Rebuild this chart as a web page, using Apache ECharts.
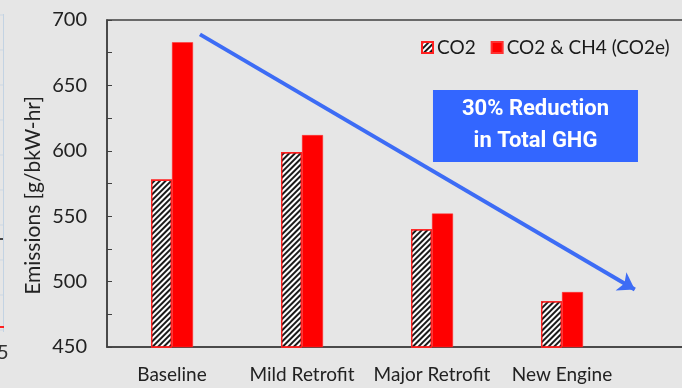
<!DOCTYPE html>
<html>
<head>
<meta charset="utf-8">
<script src="https://cdn.jsdelivr.net/npm/echarts@6/dist/echarts.min.js"></script>
<style>
html,body{margin:0;padding:0;background:#e6e6e6;}
#chart{width:682px;height:388px;}
</style>
</head>
<body>
<div id="chart"></div>
<script>
const categories = ['Baseline', 'Mild Retrofit', 'Major Retrofit', 'New Engine', ''];
const co2 = [578, 599, 540, 485];
const co2e = [683, 612, 552, 492];
const yTicks = { min: 450, max: 700, interval: 50 };
const arrowStart = [0.715, 689];
const arrowEnd = [4.06, 494];
const boxCenter = [3.296, 619];
const boxText = '30% Reduction\nin Total GHG';

const FONT = 'Lato';
const chart = echarts.init(document.getElementById('chart'));

const leftFragment = [];
[15, 50, 85, 120, 155, 190, 225, 260, 295, 330].forEach(function (y) {
  leftFragment.push({ type: 'line', shape: { x1: 0, y1: y, x2: 3, y2: y }, style: { stroke: '#cdd8e3', lineWidth: 1 } });
});
leftFragment.push({ type: 'line', shape: { x1: 3.5, y1: 14, x2: 3.5, y2: 332 }, style: { stroke: '#c3d3e3', lineWidth: 1 } });
leftFragment.push({ type: 'line', shape: { x1: 0, y1: 239, x2: 3, y2: 239 }, style: { stroke: '#111', lineWidth: 1.5 } });
leftFragment.push({ type: 'rect', shape: { x: 0, y: 326, width: 4, height: 2 }, style: { fill: '#ff2020' } });
leftFragment.push({ type: 'text', x: -3, y: 343, style: { text: '5', font: '20px ' + FONT, fill: '#333' } });

chart.setOption({
  backgroundColor: '#e6e6e6',
  animation: false,
  textStyle: { fontFamily: FONT },
  graphic: leftFragment,
  grid: {
    left: 107, top: 20, width: 650, bottom: 41,
    outerBoundsMode: 'none', containLabel: false,
    show: true, borderColor: '#404040', borderWidth: 1.5, backgroundColor: 'transparent'
  },
  legend: {
    left: 416, top: 33,
    itemWidth: 11, itemHeight: 11, itemGap: 15,
    icon: 'rect',
    textStyle: { fontFamily: FONT, fontSize: 19, color: '#1a1a1a', padding: [0, 0, 0, -1] },
    data: ['CO2', 'CO2 & CH4 (CO2e)']
  },
  xAxis: [{
    type: 'category',
    data: categories,
    axisLine: { lineStyle: { color: '#404040', width: 1.5 } },
    axisTick: { show: false },
    axisLabel: { fontSize: 19, color: '#222', margin: 18, fontFamily: FONT, interval: 0 }
  }, {
    type: 'value', min: 0, max: 5, show: false
  }],
  yAxis: {
    type: 'value',
    min: yTicks.min, max: yTicks.max, interval: yTicks.interval,
    name: 'Emissions [g/bkW-hr]',
    nameLocation: 'middle',
    nameGap: 63,
    nameMoveOverlap: false,
    nameTextStyle: { fontSize: 21, color: '#222', fontFamily: FONT, padding: [0, 24, 0, 0] },
    axisLine: { show: true, lineStyle: { color: '#404040', width: 1.5 } },
    axisTick: { show: true, inside: true, length: 5, lineStyle: { color: '#404040' } },
    minorTick: { show: true, splitNumber: 2, length: 5, lineStyle: { color: '#404040' } },
    splitLine: { show: false },
    axisLabel: { fontSize: 20, color: '#222', margin: 20, fontFamily: FONT }
  },
  series: [{
    name: 'CO2',
    type: 'bar',
    data: co2,
    barWidth: 21,
    barGap: '0%',
    itemStyle: {
      color: '#ffffff',
      borderColor: '#ff2020',
      borderWidth: 1.3,
      decal: {
        symbol: 'rect', symbolSize: 1, color: '#1a1a1a',
        dashArrayX: [1, 0], dashArrayY: [2, 2], rotation: -Math.PI / 4
      }
    }
  }, {
    name: 'CO2 & CH4 (CO2e)',
    type: 'bar',
    data: co2e,
    barWidth: 21,
    itemStyle: { color: '#ff0000', borderColor: '#ff3030', borderWidth: 0.5 }
  }, {
    type: 'line',
    xAxisIndex: 1,
    data: [],
    silent: true,
    markLine: {
      silent: true,
      symbol: ['none', 'arrow'],
      symbolSize: [16, 16],
      label: { show: false },
      lineStyle: { color: '#3d6cf5', width: 4, type: 'solid' },
      data: [[{ coord: arrowStart }, { coord: arrowEnd }]]
    },
    markPoint: {
      silent: true,
      symbol: 'rect',
      symbolSize: [205, 72],
      itemStyle: { color: '#3366ff' },
      label: {
        show: true, position: 'inside', color: '#fff', fontFamily: 'Roboto',
        fontWeight: 'bold', fontSize: 22, lineHeight: 32, formatter: boxText
      },
      data: [{ coord: boxCenter }]
    }
  }]
});
</script>
</body>
</html>
